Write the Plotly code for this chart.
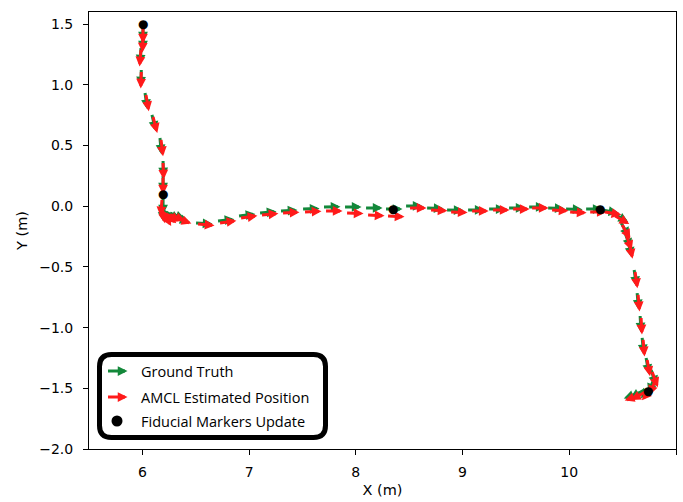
import math
import plotly.graph_objects as go

# ---------------- data ----------------
# AMCL estimated poses: tail position (m) and heading (deg)
amcl_x = [6.006, 6.006, 5.987, 5.990, 6.034, 6.100, 6.175, 6.194, 6.194, 6.184,
          6.184, 6.194, 6.203, 6.222, 6.259, 6.315,
          6.522, 6.728, 6.925, 7.121, 7.318, 7.524, 7.721, 7.918, 8.115, 8.302,
          8.508, 8.705, 8.893, 9.090, 9.286, 9.474, 9.652, 9.839, 10.008, 10.196,
          10.336, 10.430, 10.496, 10.533, 10.561,
          10.617, 10.645, 10.673, 10.692, 10.730, 10.777, 10.805, 10.777, 10.711, 10.664]
amcl_y = [1.476, 1.402, 1.287, 1.106, 0.916, 0.735, 0.546, 0.356, 0.233, 0.052,
          -0.006, -0.047, -0.056, -0.064, -0.072, -0.097,
          -0.146, -0.138, -0.097, -0.072, -0.056, -0.048, -0.039, -0.056, -0.072, -0.080,
          -0.014, -0.031, -0.047, -0.039, -0.031, -0.023, -0.014, -0.031, -0.047, -0.047,
          -0.047, -0.080, -0.155, -0.237, -0.300,
          -0.542, -0.731, -0.921, -1.102, -1.267, -1.365, -1.431, -1.497, -1.530, -1.555]
amcl_th = [-90, -92, -95, -92, -80, -75, -83, -88, -90, -95,
           -80, -60, -40, -25, -20, -20,
           -5, 8, 8, 5, 3, 3, 0, -2, -3, -3,
           0, -3, -2, 0, 0, 0, 0, -3, -3, 0,
           -10, -30, -60, -70, -78,
           -82, -85, -87, -85, -80, -70, -110, -130, -150, -160]

# Ground truth poses: tail position (m) and heading (deg)
gt_x = [6.006, 6.006, 5.987, 5.990, 6.025, 6.090, 6.165, 6.194, 6.194, 6.194,
        6.184, 6.194, 6.203, 6.222, 6.259, 6.297,
        6.503, 6.709, 6.906, 7.103, 7.299, 7.506, 7.702, 7.899, 8.096, 8.283,
        8.471, 8.668, 8.855, 9.052, 9.249, 9.436, 9.624, 9.802, 9.970, 10.158,
        10.308, 10.420, 10.486, 10.523, 10.552,
        10.608, 10.636, 10.664, 10.683, 10.720, 10.767, 10.795, 10.767, 10.701, 10.655]
gt_y = [1.493, 1.419, 1.303, 1.122, 0.933, 0.752, 0.562, 0.373, 0.249, 0.068,
        0.010, -0.031, -0.039, -0.047, -0.056, -0.089,
        -0.138, -0.121, -0.080, -0.056, -0.039, -0.023, -0.006, -0.006, -0.014, -0.023,
        0.002, -0.014, -0.031, -0.031, -0.023, -0.014, -0.006, -0.014, -0.023, -0.023,
        -0.031, -0.064, -0.138, -0.220, -0.285,
        -0.525, -0.715, -0.904, -1.085, -1.250, -1.349, -1.415, -1.481, -1.514, -1.538]
gt_th = [-90, -90, -93, -92, -82, -77, -85, -89, -90, -90,
         -85, -65, -45, -30, -22, -18,
         -3, 6, 7, 5, 3, 2, 1, 0, 0, 0,
         0, -2, -1, 0, 0, 0, 0, -2, -2, 0,
         -10, -30, -60, -70, -78,
         -82, -85, -87, -85, -80, -72, -110, -130, -150, -160]

# Fiducial marker updates
fid_x = [6.006, 6.19, 8.35, 10.29, 10.74]
fid_y = [1.49, 0.093, -0.03, -0.03, -1.53]

legend_labels = ["Ground Truth", "AMCL Estimated Position", "Fiducial Markers Update"]

GREEN = "#13883a"
RED = "#ff1a1a"
ARROW_PX = 18

fig = go.Figure()
# invisible trace so axes exist
fig.add_trace(go.Scatter(x=fid_x, y=fid_y, mode="markers",
                         marker=dict(size=1, color="rgba(0,0,0,0)"),
                         showlegend=False, hoverinfo="skip"))

annotations = []


def arrow(x, y, th, color, xref="x", yref="y", length=ARROW_PX):
    r = math.radians(th)
    return dict(x=x, y=y, xref=xref, yref=yref,
                ax=length * math.cos(r), ay=-length * math.sin(r),
                axref="pixel", ayref="pixel", text="", showarrow=True,
                arrowside="start", startarrowhead=2, startarrowsize=0.65,
                arrowwidth=3, arrowcolor=color)


for x, y, th in zip(gt_x, gt_y, gt_th):
    annotations.append(arrow(x, y, th, GREEN))
for x, y, th in zip(amcl_x, amcl_y, amcl_th):
    annotations.append(arrow(x, y, th, RED))
for x, y in zip(fid_x, fid_y):
    annotations.append(dict(x=x, y=y, xref="x", yref="y", text="●", showarrow=False,
                            font=dict(size=12, color="black", family="DejaVu Sans"),
                            xanchor="center", yanchor="middle", yshift=1))

# ---------------- legend (manual) ----------------
W, H = 587.0, 437.0
def px2paper(px, py):
    return (px - 89) / W, (449 - py) / H

lx0, lx1, ly0, ly1 = 99.5, 325.5, 354.5, 437.5
r = 12
def P(px, py):
    a, b = px2paper(px, py)
    return f"{a:.5f},{b:.5f}"
path = (f"M {P(lx0 + r, ly0)} L {P(lx1 - r, ly0)} Q {P(lx1, ly0)} {P(lx1, ly0 + r)} "
        f"L {P(lx1, ly1 - r)} Q {P(lx1, ly1)} {P(lx1 - r, ly1)} "
        f"L {P(lx0 + r, ly1)} Q {P(lx0, ly1)} {P(lx0, ly1 - r)} "
        f"L {P(lx0, ly0 + r)} Q {P(lx0, ly0)} {P(lx0 + r, ly0)} Z")
shapes = [dict(type="path", xref="paper", yref="paper", path=path,
               line=dict(color="black", width=5), fillcolor="white", layer="above")]

rows = [371, 397, 421]
for lab, row, col in zip(legend_labels, rows, [GREEN, RED, None]):
    tx, ty = px2paper(139, row)
    annotations.append(dict(x=tx, y=ty, xref="paper", yref="paper", text=lab,
                            showarrow=False, xanchor="left", yanchor="middle",
                            font=dict(family="Open Sans", size=14.5, color="black")))
    if col is not None:
        ax_, ay_ = px2paper(108, row)
        annotations.append(arrow(ax_, ay_, 0, col, xref="paper", yref="paper", length=21))
    else:
        cx, cy = px2paper(117, row)
        shapes.append(dict(type="circle", xref="paper", yref="paper",
                           xsizemode="pixel", ysizemode="pixel",
                           xanchor=cx, yanchor=cy, x0=-5.5, x1=5.5, y0=-5.5, y1=5.5,
                           fillcolor="black", line=dict(width=0), layer="above"))

axis_common = dict(showline=True, linecolor="black", linewidth=1, mirror=True,
                   ticks="outside", ticklen=5, tickcolor="black", showgrid=False,
                   zeroline=False, tickfont=dict(family="DejaVu Sans", size=14, color="black"))
title_font = dict(family="DejaVu Sans", size=14.5, color="black")

fig.update_layout(
    width=683, height=502,
    margin=dict(l=89, r=7, t=12, b=53),
    paper_bgcolor="white", plot_bgcolor="white",
    showlegend=False,
    xaxis=dict(range=[5.5, 11], dtick=1, tick0=6, ticklabelstandoff=5,
               title=dict(text="X (m)", font=title_font, standoff=6),
               **axis_common),
    yaxis=dict(range=[-2.0, 1.6], dtick=0.5, tick0=0, tickformat=".1f", ticklabelstandoff=7,
               title=dict(text="Y (m)", font=title_font, standoff=8),
               **axis_common),
    annotations=annotations,
    shapes=shapes,
)

fig.write_html("out.html")
